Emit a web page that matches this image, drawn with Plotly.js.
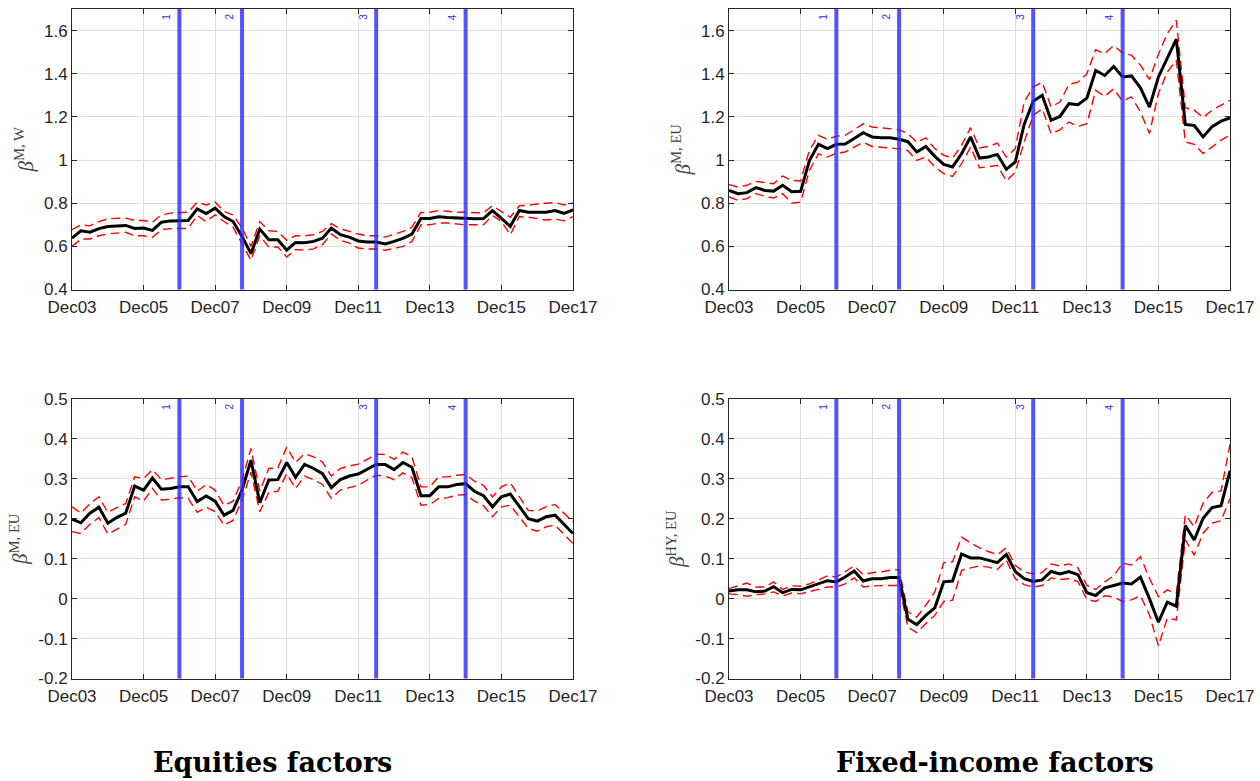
<!DOCTYPE html>
<html>
<head>
<meta charset="utf-8">
<script src="https://cdn.plot.ly/plotly-3.0.1.min.js"></script>
<style>html,body{margin:0;padding:0;background:#fff}#chart{width:1260px;height:781px}</style>
</head>
<body>
<div id="chart"></div>
<script>
// Quarterly observation dates (Dec 2003 .. Dec 2017)
const quarters = [
 '2003-12-01','2004-03-01','2004-06-01','2004-09-01','2004-12-01','2005-03-01','2005-06-01','2005-09-01','2005-12-01',
 '2006-03-01','2006-06-01','2006-09-01','2006-12-01','2007-03-01','2007-06-01','2007-09-01','2007-12-01',
 '2008-03-01','2008-06-01','2008-09-01','2008-12-01','2009-03-01','2009-06-01','2009-09-01','2009-12-01',
 '2010-03-01','2010-06-01','2010-09-01','2010-12-01','2011-03-01','2011-06-01','2011-09-01','2011-12-01',
 '2012-03-01','2012-06-01','2012-09-01','2012-12-01','2013-03-01','2013-06-01','2013-09-01','2013-12-01',
 '2014-03-01','2014-06-01','2014-09-01','2014-12-01','2015-03-01','2015-06-01','2015-09-01','2015-12-01',
 '2016-03-01','2016-06-01','2016-09-01','2016-12-01','2017-03-01','2017-06-01','2017-09-01','2017-12-01'
];

// Event markers
const eventDates  = ['2006-12-01','2008-09-01','2012-06-01','2014-12-01'];
const eventLabels = ['1','2','3','4'];

// Equities: beta M,W
const eqW_mid = [0.638,0.672,0.666,0.682,0.692,0.694,0.697,0.683,0.685,0.674,0.712,0.718,0.720,0.720,0.774,0.752,0.777,0.738,0.715,0.646,0.566,0.680,0.631,0.631,0.582,0.618,0.617,0.623,0.638,0.685,0.654,0.643,0.625,0.620,0.620,0.611,0.623,0.637,0.657,0.729,0.729,0.737,0.734,0.731,0.729,0.728,0.729,0.766,0.730,0.693,0.766,0.758,0.758,0.758,0.766,0.753,0.769];
const eqW_up  = [0.677,0.700,0.695,0.715,0.728,0.731,0.731,0.720,0.720,0.712,0.746,0.754,0.755,0.758,0.805,0.792,0.805,0.762,0.746,0.685,0.600,0.715,0.672,0.669,0.628,0.649,0.649,0.654,0.669,0.705,0.682,0.669,0.657,0.649,0.649,0.643,0.657,0.669,0.689,0.757,0.758,0.766,0.763,0.758,0.758,0.755,0.755,0.788,0.762,0.735,0.788,0.790,0.796,0.799,0.803,0.792,0.800];
const eqW_lo  = [0.600,0.634,0.634,0.649,0.658,0.662,0.665,0.649,0.649,0.642,0.677,0.682,0.683,0.683,0.743,0.715,0.746,0.715,0.689,0.608,0.535,0.649,0.597,0.597,0.551,0.585,0.582,0.588,0.608,0.658,0.628,0.615,0.592,0.588,0.588,0.582,0.590,0.600,0.623,0.700,0.700,0.708,0.708,0.703,0.700,0.700,0.700,0.743,0.715,0.654,0.738,0.735,0.727,0.722,0.726,0.718,0.738];

// Equities: beta M,EU
const eqEU_mid = [0.199,0.190,0.214,0.229,0.189,0.203,0.214,0.282,0.272,0.302,0.274,0.276,0.280,0.280,0.243,0.257,0.244,0.209,0.221,0.272,0.347,0.240,0.297,0.298,0.341,0.304,0.336,0.326,0.313,0.278,0.298,0.307,0.312,0.323,0.336,0.336,0.323,0.341,0.329,0.258,0.258,0.280,0.280,0.286,0.288,0.269,0.258,0.230,0.255,0.262,0.230,0.200,0.194,0.205,0.209,0.186,0.163];
const eqEU_up  = [0.230,0.214,0.238,0.255,0.216,0.228,0.238,0.305,0.301,0.323,0.298,0.302,0.305,0.307,0.269,0.286,0.272,0.233,0.244,0.297,0.376,0.269,0.326,0.327,0.380,0.341,0.363,0.355,0.342,0.307,0.326,0.332,0.337,0.349,0.362,0.361,0.349,0.367,0.355,0.280,0.280,0.305,0.305,0.309,0.311,0.294,0.284,0.255,0.280,0.290,0.255,0.221,0.219,0.230,0.236,0.213,0.192];
const eqEU_lo  = [0.168,0.163,0.186,0.203,0.162,0.174,0.186,0.255,0.244,0.276,0.247,0.249,0.253,0.251,0.216,0.229,0.218,0.184,0.196,0.247,0.317,0.218,0.266,0.269,0.313,0.276,0.307,0.298,0.286,0.251,0.272,0.278,0.284,0.297,0.309,0.307,0.298,0.315,0.303,0.234,0.236,0.251,0.253,0.259,0.261,0.244,0.233,0.205,0.230,0.234,0.205,0.176,0.169,0.180,0.184,0.160,0.138];

// Fixed income: beta M,EU
const fiM_mid = [0.859,0.844,0.849,0.872,0.859,0.856,0.883,0.853,0.855,0.998,1.073,1.053,1.073,1.074,1.100,1.127,1.107,1.103,1.103,1.096,1.085,1.037,1.063,1.017,0.980,0.968,1.029,1.107,1.009,1.014,1.026,0.957,0.991,1.165,1.273,1.300,1.184,1.202,1.261,1.256,1.287,1.415,1.392,1.434,1.385,1.390,1.335,1.245,1.385,1.470,1.560,1.165,1.160,1.107,1.155,1.180,1.195];
const fiM_up  = [0.886,0.875,0.883,0.901,0.895,0.890,0.926,0.906,0.903,1.045,1.114,1.096,1.111,1.114,1.141,1.168,1.153,1.150,1.147,1.141,1.122,1.083,1.103,1.053,1.022,1.009,1.068,1.150,1.056,1.063,1.079,1.014,1.053,1.269,1.338,1.361,1.246,1.269,1.351,1.361,1.400,1.511,1.493,1.531,1.496,1.486,1.440,1.373,1.490,1.586,1.648,1.243,1.231,1.197,1.231,1.254,1.277];
const fiM_lo  = [0.829,0.813,0.821,0.844,0.832,0.824,0.844,0.800,0.805,0.952,1.029,1.014,1.032,1.037,1.060,1.083,1.063,1.060,1.057,1.052,1.043,0.998,1.014,0.968,0.937,0.924,0.983,1.060,0.964,0.968,0.975,0.903,0.944,1.083,1.207,1.238,1.122,1.140,1.176,1.156,1.168,1.323,1.295,1.330,1.273,1.293,1.223,1.123,1.308,1.408,1.463,1.084,1.073,1.030,1.061,1.092,1.115];

// Fixed income: beta HY,EU
const fiHY_mid = [0.019,0.022,0.022,0.017,0.019,0.030,0.015,0.023,0.022,0.029,0.037,0.045,0.042,0.054,0.069,0.044,0.050,0.050,0.053,0.053,-0.052,-0.065,-0.042,-0.023,0.042,0.044,0.112,0.102,0.102,0.096,0.090,0.111,0.068,0.050,0.043,0.047,0.068,0.062,0.068,0.060,0.015,0.008,0.027,0.033,0.039,0.037,0.054,0.000,-0.059,-0.009,-0.019,0.183,0.147,0.201,0.228,0.233,0.320];
const fiHY_up  = [0.025,0.032,0.039,0.029,0.029,0.042,0.023,0.032,0.031,0.037,0.048,0.057,0.054,0.067,0.082,0.060,0.065,0.067,0.071,0.073,-0.033,-0.046,-0.017,0.017,0.090,0.092,0.154,0.140,0.127,0.118,0.110,0.127,0.083,0.067,0.062,0.065,0.087,0.082,0.087,0.077,0.033,0.023,0.042,0.057,0.089,0.084,0.105,0.051,0.005,0.022,0.013,0.210,0.180,0.239,0.266,0.270,0.387];
const fiHY_lo  = [0.012,0.010,0.006,0.010,0.012,0.017,0.007,0.014,0.012,0.017,0.023,0.029,0.029,0.037,0.052,0.029,0.032,0.033,0.033,0.033,-0.072,-0.085,-0.062,-0.042,-0.007,-0.004,0.071,0.077,0.082,0.079,0.073,0.096,0.050,0.035,0.029,0.033,0.052,0.048,0.050,0.043,-0.002,-0.007,0.007,0.004,-0.007,-0.003,0.007,-0.041,-0.118,-0.049,-0.053,0.147,0.109,0.164,0.189,0.195,0.251];

// Axis tick labels
const topTickVals = [0.4,0.6,0.8,1,1.2,1.4,1.6];
const topTickText = ['0.4','0.6','0.8','1','1.2','1.4','1.6'];
const botTickVals = [-0.2,-0.1,0,0.1,0.2,0.3,0.4,0.5];
const botTickText = ['-0.2','-0.1','0','0.1','0.2','0.3','0.4','0.5'];

const columnTitles = ['Equities factors','Fixed-income factors'];
const yTitles = [
  '<i>β</i><sup>M, W</sup>',
  '<i>β</i><sup>M, EU</sup>',
  '<i>β</i><sup>M, EU</sup>',
  '<i>β</i><sup>HY, EU</sup>'
];

const panels = [
  {mid: eqW_mid,  up: eqW_up,  lo: eqW_lo,  xa:'x',  ya:'y'},
  {mid: fiM_mid,  up: fiM_up,  lo: fiM_lo,  xa:'x2', ya:'y2'},
  {mid: eqEU_mid, up: eqEU_up, lo: eqEU_lo, xa:'x3', ya:'y3'},
  {mid: fiHY_mid, up: fiHY_up, lo: fiHY_lo, xa:'x4', ya:'y4'}
];

const W = 1260, H = 781;
const xDomL = [72/W, 573/W], xDomR = [729/W, 1230/W];
const yDomT = [1-289.5/H, 1-9/H], yDomB = [1-678.5/H, 1-399/H];

const traces = [];
panels.forEach(p => {
  ['up','lo'].forEach(k => traces.push({
    x: quarters, y: p[k], xaxis: p.xa, yaxis: p.ya, mode: 'lines', type: 'scatter',
    line: {color: '#ff0000', width: 1.4, dash: '9px,5px'}, hoverinfo: 'skip', showlegend: false
  }));
  traces.push({
    x: quarters, y: p.mid, xaxis: p.xa, yaxis: p.ya, mode: 'lines', type: 'scatter',
    line: {color: '#000000', width: 3}, showlegend: false
  });
});

const tickFont = {family: 'Liberation Sans, Arial, sans-serif', size: 17, color: '#262626'};
function xAxis(dom, anchor) {
  return {
    domain: dom, anchor: anchor, type: 'date',
    range: ['2003-12-01','2017-12-01'],
    tick0: '2003-12-01', dtick: 'M24', tickformat: '%b%y',
    showgrid: true, gridcolor: '#dfdfdf', gridwidth: 1,
    showline: true, linecolor: '#262626', linewidth: 1, mirror: 'ticks',
    ticks: 'inside', ticklen: 5, tickcolor: '#262626', ticklabelstandoff: 2,
    tickfont: tickFont, zeroline: false, fixedrange: true
  };
}
function yAxis(dom, anchor, range, vals, text, title) {
  return {
    domain: dom, anchor: anchor, range: range,
    tickmode: 'array', tickvals: vals, ticktext: text,
    showgrid: true, gridcolor: '#dfdfdf', gridwidth: 1,
    showline: true, linecolor: '#262626', linewidth: 1, mirror: 'ticks',
    ticks: 'inside', ticklen: 5, tickcolor: '#262626',
    tickfont: tickFont, zeroline: false, fixedrange: true,
    title: {text: title, standoff: 4, font: {family: 'Liberation Serif, serif', size: 21, color: '#444444'}}
  };
}

const shapes = [], annotations = [];
panels.forEach(p => {
  eventDates.forEach((d, i) => {
    shapes.push({type: 'line', xref: p.xa, yref: p.ya + ' domain', x0: d, x1: d, y0: 0, y1: 1,
      line: {color: 'rgba(40,40,255,0.8)', width: 4}, layer: 'above'});
    annotations.push({xref: p.xa, yref: p.ya + ' domain', x: d, y: 1, xanchor: 'right', yanchor: 'top',
      xshift: -6, yshift: -3, textangle: -90, text: eventLabels[i], showarrow: false,
      font: {family: 'Liberation Sans, Arial, sans-serif', size: 10, color: '#3030ff'}});
  });
});
annotations.push({xref: 'paper', yref: 'paper', x: 272/W, y: 1-762/H, xanchor: 'center', yanchor: 'middle',
  text: '<b>' + columnTitles[0] + '</b>', showarrow: false,
  font: {family: 'DejaVu Serif, serif', size: 27, color: '#000'}});
annotations.push({xref: 'paper', yref: 'paper', x: 995/W, y: 1-762/H, xanchor: 'center', yanchor: 'middle',
  text: '<b>' + columnTitles[1] + '</b>', showarrow: false,
  font: {family: 'DejaVu Serif, serif', size: 27, color: '#000'}});

const layout = {
  width: W, height: H, margin: {l: 0, r: 0, t: 0, b: 0},
  paper_bgcolor: '#ffffff', plot_bgcolor: '#ffffff', showlegend: false,
  xaxis:  xAxis(xDomL, 'y'),
  xaxis2: xAxis(xDomR, 'y2'),
  xaxis3: xAxis(xDomL, 'y3'),
  xaxis4: xAxis(xDomR, 'y4'),
  yaxis:  yAxis(yDomT, 'x',  [0.4, 1.7], topTickVals, topTickText, yTitles[0]),
  yaxis2: yAxis(yDomT, 'x2', [0.4, 1.7], topTickVals, topTickText, yTitles[2]),
  yaxis3: yAxis(yDomB, 'x3', [-0.2, 0.5], botTickVals, botTickText, yTitles[1]),
  yaxis4: yAxis(yDomB, 'x4', [-0.2, 0.5], botTickVals, botTickText, yTitles[3]),
  shapes: shapes, annotations: annotations
};

Plotly.newPlot('chart', traces, layout, {displayModeBar: false, staticPlot: true});
</script>
</body>
</html>
